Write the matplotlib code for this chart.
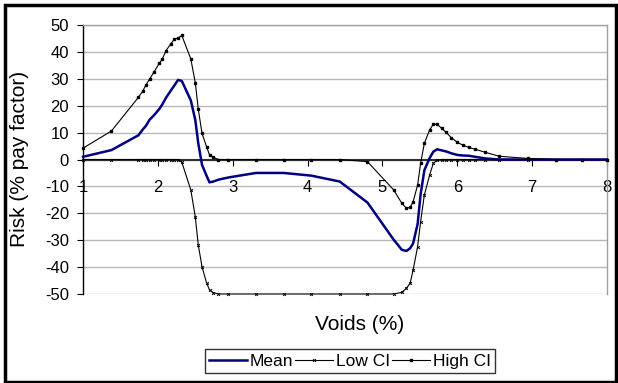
import matplotlib
matplotlib.use("Agg")
import matplotlib.pyplot as plt
from matplotlib.patches import Rectangle

plt.rcParams['font.family'] = ['Liberation Sans', 'DejaVu Sans']
plt.rcParams['axes.unicode_minus'] = False

# shared x values (voids, %)
voids = [1.00, 1.38, 1.74, 1.80, 1.84, 1.89, 1.95, 2.02, 2.06, 2.11, 2.17, 2.22, 2.27, 2.32,
         2.44, 2.50, 2.54, 2.59, 2.65, 2.69, 2.74, 2.81, 2.94, 3.31, 3.68, 4.05, 4.43, 4.80,
         5.15, 5.26, 5.32, 5.37, 5.41, 5.47, 5.51, 5.56, 5.63, 5.68, 5.73, 5.79, 5.85, 5.92,
         6.00, 6.07, 6.15, 6.24, 6.37, 6.56, 6.94, 7.32, 7.67, 8.00]

mean = [1.0, 3.5, 9.0, 11.2, 12.5, 14.8, 16.5, 18.8, 20.5, 23.0, 25.5, 27.5, 29.6, 29.2,
        22.0, 14.7, 6.0, -2.0, -6.0, -8.5, -8.2, -7.5, -6.7, -5.0, -5.0, -6.0, -8.2, -16.0,
        -29.8, -33.6, -34.0, -33.0, -31.2, -24.0, -13.0, -4.0, 0.5, 2.9, 3.8, 3.4, 3.0, 2.3,
        1.7, 1.5, 1.4, 1.0, 0.4, 0, 0, 0, 0, 0]

low_ci = [0, 0, 0, 0, 0, 0, 0, 0, 0, 0, 0, 0, 0, -1.0,
          -11.3, -21.3, -31.8, -39.9, -45.8, -48.5, -49.5, -50, -50, -50, -50, -50, -50, -50,
          -50, -49.4, -47.9, -46.0, -41.1, -32.4, -23.1, -13.2, -5.8, -1.4, -0.3, 0, 0, 0,
          0, 0, 0, 0, 0, 0, 0, 0, 0, 0]

high_ci = [4.2, 10.6, 23.1, 25.5, 27.7, 29.9, 32.6, 35.8, 37.4, 40.5, 42.9, 44.7, 45.2, 46.1,
           37.4, 28.6, 18.7, 9.7, 4.8, 1.7, 0.8, 0, 0, 0, 0, 0, 0, -0.8,
           -11.3, -16.3, -18.1, -17.8, -15.7, -9.5, -1.4, 6.0, 11.0, 13.1, 13.1, 11.6, 10.1, 8.1,
           6.4, 5.4, 4.5, 3.8, 2.7, 1.2, 0.4, 0, 0, 0]

W, H = 618, 383
fig = plt.figure(figsize=(W / 100, H / 100), dpi=100)
ax = fig.add_axes([83 / W, 1 - 294 / H, (607 - 83) / W, (294 - 25) / H])

# gridlines
for yv in range(-50, 51, 10):
    ax.axhline(yv, color='#b8b8b8', lw=1.0, zorder=0)

ax.plot(voids, mean, color='#000080', lw=1.8, label='Mean', zorder=3, clip_on=False)
ax.plot(voids, low_ci, color='black', lw=0.8, marker='x', markersize=2.0, markeredgewidth=0.7,
        label='Low CI', zorder=4, clip_on=False)
ax.plot(voids, high_ci, color='black', lw=0.8, marker='s', markersize=1.6,
        label='High CI', zorder=4, clip_on=False)

ax.set_xlim(1, 8)
ax.set_ylim(-50, 50)
ax.set_yticks(range(-50, 51, 10))
ax.set_xticks(range(1, 9))

ax.spines['bottom'].set_position(('data', 0))
ax.spines['bottom'].set_color('#303030')
ax.spines['bottom'].set_linewidth(1.5)
ax.spines['left'].set_color('black')
ax.spines['left'].set_linewidth(1.0)
for s in ['top', 'right']:
    ax.spines[s].set_color('#a0a0a0')
    ax.spines[s].set_linewidth(1.0)

ax.tick_params(axis='y', direction='out', length=4, pad=6, labelsize=12)
ax.tick_params(axis='x', direction='out', length=4, pad=11, labelsize=12)

fig.text(360 / W, 1 - 325 / H, 'Voids (%)', ha='center', va='center', fontsize=15)
fig.text(20 / W, 1 - 159 / H, 'Risk (% pay factor)', ha='center', va='center',
         rotation=90, fontsize=15)

leg = fig.legend(loc='center', bbox_to_anchor=(350 / W, 1 - 361 / H), ncol=3,
                 fontsize=12.5, frameon=True, fancybox=False, edgecolor='black',
                 handlelength=2.2, handletextpad=0.15, columnspacing=0.1,
                 borderpad=0.25, borderaxespad=0)
leg.get_frame().set_linewidth(1.0)

# outer chart border
fig.patches.append(Rectangle((5 / W, 1 / H), 611 / W, 377 / H, transform=fig.transFigure,
                             fill=False, edgecolor='black', lw=2.5))

fig.savefig('out.png', dpi=100)
